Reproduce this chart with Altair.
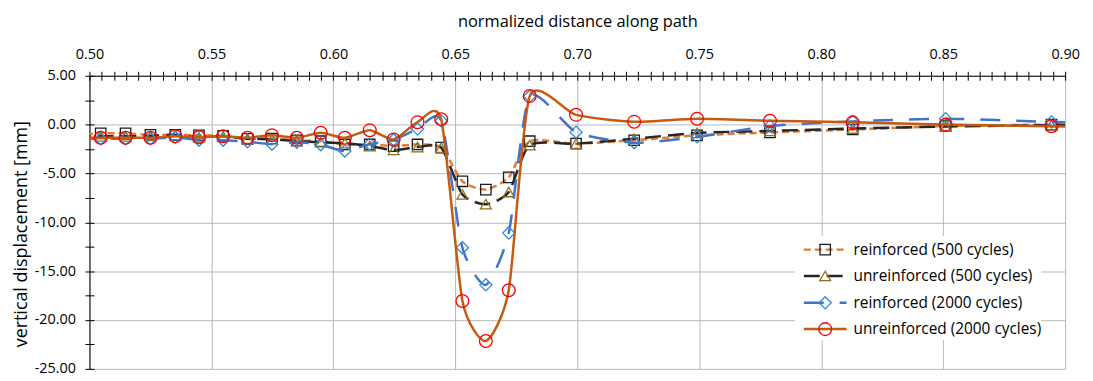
import altair as alt
import pandas as pd

# ---------------- data ----------------
x_pos = [0.4940, 0.5046, 0.5148, 0.5250, 0.5352, 0.5449, 0.5548, 0.5648, 0.5748,
         0.5850, 0.5948, 0.6047, 0.6149, 0.6247, 0.6345, 0.6442, 0.6529, 0.6625,
         0.6719, 0.6805, 0.6995, 0.7233, 0.7491, 0.7790, 0.8129, 0.8510, 0.8944, 0.9060]

reinforced_500 = [-1.05, -0.9, -0.9, -1.05, -1.05, -1.1, -1.15, -1.45, -1.42, -1.62,
                  -1.7, -2.03, -2.03, -2.2, -2.03, -2.36, -5.8, -6.65, -5.4, -1.7,
                  -1.95, -1.6, -1.1, -0.8, -0.5, -0.15, 0.0, 0.0]
unreinforced_500 = [-1.2, -1.2, -1.2, -1.15, -1.05, -1.3, -1.2, -1.45, -1.5, -1.7,
                    -1.8, -1.9, -2.2, -2.6, -2.3, -2.36, -7.15, -8.15, -6.9, -2.1,
                    -1.95, -1.45, -0.85, -0.65, -0.4, -0.2, -0.05, -0.05]
reinforced_2000 = [-1.4, -1.45, -1.45, -1.45, -1.3, -1.6, -1.6, -1.75, -2.0, -1.8,
                   -2.05, -2.7, -2.0, -1.55, -0.45, 0.4, -12.6, -16.4, -11.1, 2.9,
                   -0.77, -1.85, -1.25, -0.15, 0.33, 0.6, 0.27, 0.2]
unreinforced_2000 = [-1.35, -1.35, -1.35, -1.35, -1.2, -1.3, -1.2, -1.35, -1.08, -1.35,
                     -0.84, -1.35, -0.57, -1.52, 0.25, 0.55, -18.05, -22.15, -16.95, 2.92,
                     1.0, 0.3, 0.6, 0.4, 0.23, 0.0, -0.17, -0.2]

series_names = ["reinforced (500 cycles)", "unreinforced (500 cycles)",
                "reinforced (2000 cycles)", "unreinforced (2000 cycles)"]
series_values = [reinforced_500, unreinforced_500, reinforced_2000, unreinforced_2000]

x_major = [0.50, 0.55, 0.60, 0.65, 0.70, 0.75, 0.80, 0.85, 0.90]
x_minor = [round(0.50 + 0.005 * i, 3) for i in range(81)]
y_major = [-25, -20, -15, -10, -5, 0, 5]
y_minor = [-25, -22.5, -20, -17.5, -15, -12.5, -10, -7.5, -5, -2.5, 0, 2.5, 5]

# ---------------- styles ----------------
styles = [
    dict(line="#E07B39", dash=[7, 4], shape="square", mcolor="#1A1A1A", size=110),
    dict(line="#262626", dash=[16, 7], shape="triangle-up", mcolor="#8C6E1E", size=120),
    dict(line="#4472C4", dash=[20, 16], shape="diamond", mcolor="#2E8BE0", size=150),
    dict(line="#C55A11", dash=None, shape="circle", mcolor="#FF0000", size=165),
]

FONT = "Open Sans"
GRID = "#B7B7B7"
xscale = alt.Scale(domain=[0.5, 0.9], nice=False, zero=False)
yscale = alt.Scale(domain=[-25, 5], nice=False, zero=False)

main_x_axis = alt.Axis(orient="top", values=x_major, format=".2f", grid=True,
                       gridColor=GRID, gridWidth=1, domain=True, domainColor="black",
                       domainWidth=1, ticks=False, tickSize=0, labelFont=FONT,
                       labelFontSize=14.5, labelColor="black", labelPadding=14,
                       labelFlush=False, title="normalized distance along path",
                       titleFont=FONT, titleFontSize=16.5, titleFontWeight="normal",
                       titleColor="black", titleY=-50, titleBaseline="alphabetic")
main_y_axis = alt.Axis(orient="left", values=y_major, grid=True, gridColor=GRID,
                       gridWidth=1, domain=True, domainColor="black", domainWidth=1,
                       ticks=False, tickSize=0, labelFont=FONT, labelFontSize=14.5,
                       labelColor="black", labelPadding=14, labelFlush=False,
                       labelExpr="replace(format(datum.value, '.2f'), '\u2212', '-')",
                       title="vertical displacement [mm]", titleFont=FONT,
                       titleFontSize=18, titleFontWeight="normal", titleColor="black",
                       titleAngle=270, titleX=-68, titleY=159, titleAlign="center",
                       titleBaseline="middle")
tick_x_axis = alt.Axis(orient="top", values=x_minor, grid=False, domain=False,
                       labels=False, ticks=True, tickSize=9, tickColor="black",
                       tickWidth=1, offset=-4.5, title=None)
tick_y_axis = alt.Axis(orient="left", values=y_minor, grid=False, domain=False,
                       labels=False, ticks=True, tickSize=9, tickColor="black",
                       tickWidth=1, offset=-4.5, title=None)

layers = []
for i, (name, vals, st) in enumerate(zip(series_names, series_values, styles)):
    df = pd.DataFrame({"x": x_pos, "y": vals, "series": name})
    if i == 0:
        xa, ya = main_x_axis, main_y_axis
    else:
        xa, ya = None, None
    line_kw = dict(color=st["line"], strokeWidth=2.5, interpolate="cardinal",
                   tension=0.35, clip=True)
    if st["dash"]:
        line_kw["strokeDash"] = st["dash"]
    line = alt.Chart(df).mark_line(**line_kw).encode(
        x=alt.X("x:Q", scale=xscale, axis=xa),
        y=alt.Y("y:Q", scale=yscale, axis=ya),
    )
    if i == 0:
        pxa, pya = tick_x_axis, tick_y_axis
    else:
        pxa, pya = None, None
    pts = alt.Chart(df).mark_point(shape=st["shape"], filled=False, stroke=st["mcolor"],
                                   strokeWidth=1.3, size=st["size"], opacity=1,
                                   clip=True).encode(
        x=alt.X("x:Q", scale=xscale, axis=pxa),
        y=alt.Y("y:Q", scale=yscale, axis=pya),
    )
    layers += [line, pts]

# ---------------- manual legend ----------------
bg = alt.Chart(pd.DataFrame({"a": [0]})).mark_rect(color="white").encode(
    x=alt.value(710), x2=alt.value(958), y=alt.value(161), y2=alt.value(266))
layers.append(bg)
row_y = [175, 201.5, 228.5, 255]
for name, st, ry in zip(series_names, styles, row_y):
    ldf = pd.DataFrame({"label": [name]})
    rule_kw = dict(color=st["line"], strokeWidth=2.5)
    if st["dash"]:
        rule_kw["strokeDash"] = st["dash"]
    layers.append(alt.Chart(ldf).mark_rule(**rule_kw).encode(
        x=alt.value(719), x2=alt.value(762), y=alt.value(ry)))
    layers.append(alt.Chart(ldf).mark_point(shape=st["shape"], filled=False,
                                            stroke=st["mcolor"], strokeWidth=1.3,
                                            size=st["size"], opacity=1).encode(
        x=alt.value(740.5), y=alt.value(ry)))
    layers.append(alt.Chart(ldf).mark_text(align="left", baseline="middle", font=FONT,
                                           fontSize=15.5, color="black").encode(
        x=alt.value(769), y=alt.value(ry), text="label:N"))

chart = alt.layer(*layers).resolve_axis(x="independent", y="independent").properties(
    width=982, height=295, autosize="none",
    padding={"left": 82, "top": 67, "right": 20, "bottom": 8},
).configure_view(stroke=None)

chart.save("out.html", embed_options={"renderer": "svg", "actions": False})
